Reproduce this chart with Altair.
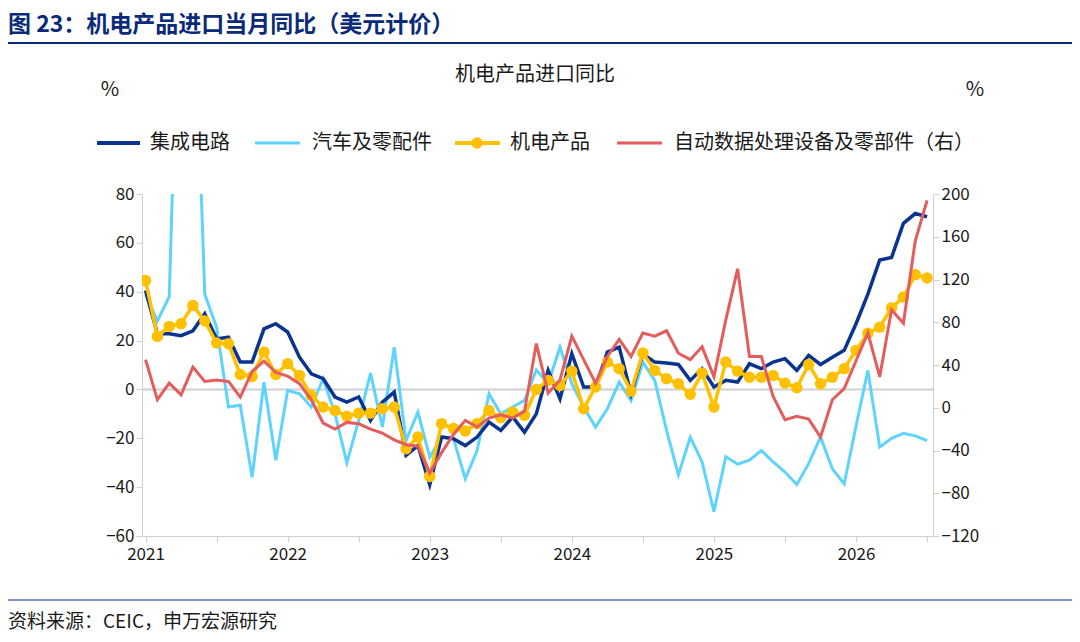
import altair as alt
import pandas as pd

FONT = "Noto Sans CJK SC"
ic = [40.5,22.8,22.8,22,24,31,20.7,21.4,11.2,11.2,24.8,26.9,23.5,13.2,6.4,4.4,-3.1,-5.2,-3.1,-12.7,-5.2,-1.1,-27,-23,-39,-19.5,-20.2,-23,-19.5,-13.4,-16.8,-11.3,-17.5,-10,
      7.8,-3.8,14.6,1,1,15.3,17.3,-1.8,14.6,11.2,10.8,10.2,3.7,8.5,1,3.7,3,10.5,8.5,11.2,12.6,7.8,13.9,10.2,13.2,16,26.9,39,53,54,68,72,70.7]
auto = [39,28,38,200,180,39,25.5,-7.2,-6.5,-36,3,-29,-0.4,-1.8,-7.2,4.4,-10,-30,-12.7,6.7,-15.4,17.3,-20.9,-9.3,-27.7,-19.5,-20,-36.6,-25,-1.8,-10,-7.2,-4.5,8,
        2.3,17.3,2.3,-7.2,-15.4,-7.9,3,-4.5,11.2,3.7,-16.8,-35,-19.5,-29.7,-50,-27.5,-30.6,-29,-25,-29.7,-33.8,-38.9,-30.4,-19.5,-32.5,-38.6,-15,7.8,-23.6,-20,-18,-19,-21]
mech = [44.6,21.7,25.8,26.9,34.4,28,19,18.7,6.1,5.3,15.3,6.1,10.5,5.7,-2.5,-7.2,-8.6,-11,-9.7,-9.7,-7.9,-7.2,-24.3,-19.5,-35.6,-14,-16,-17,-14,-8.6,-11.6,-9.3,-10.6,0,
        3.7,1.6,7.5,-7.9,1,11.2,8.5,-0.7,14.9,7.8,4.4,2.3,-2,6.7,-7.2,11.2,7.5,5,5,5.7,2.6,0.7,10.2,2.3,5,8.5,16,23,25.5,33.4,37.8,47,45.6]
adp = [45,7.5,23,12,38,24.6,26,24.6,10,34,43.6,33,29.6,22.5,7.5,-14.3,-20,-13.7,-15,-20,-23.7,-30,-34.6,-36,-61,-42,-25,-11.8,-18,-9.7,-6.5,-9.7,-3.4,60,
       13.7,26,67,45,23,48,64,48,70,67,72,51,45,57,29,82,130,48,48,10.6,-11.2,-8,-10.6,-27.4,7.5,18,44,70,29,91.6,79,156,194]
months = list(range(len(ic)))
df = pd.DataFrame({"m": months, "ic": ic, "auto": auto, "mech": mech, "adp": adp})

W, H = 791, 342
NAVY, LBLUE, YEL, RED = "#0a3490", "#5fd3ff", "#ffc000", "#e35d5d"
xenc = alt.X("m:Q", scale=alt.Scale(domain=[-0.3, 66.5], nice=False, zero=False),
             axis=alt.Axis(values=list(range(0, 67, 6)), labelExpr="datum.value % 12 == 0 ? '' + (2021 + datum.value/12) : ''",
                           title=None, grid=False, domainColor="#d0d0d0", tickColor="#d0d0d0", tickSize=6,
                           labelFontSize=17, labelColor="#1a1a1a", labelFont=FONT, labelPadding=4, labelFlush=False))
lscale = alt.Scale(domain=[-60, 80], nice=False)
laxis = alt.Axis(values=list(range(-60, 81, 20)), title=None, grid=False, domainColor="#d0d0d0", tickColor="#d0d0d0",
                 labelFontSize=17, labelColor="#1a1a1a", labelFont=FONT, tickSize=6)
base = alt.Chart(df).encode(x=xenc)
zero = alt.Chart(pd.DataFrame({"z": [0]})).mark_rule(color="#d0d0d0", strokeWidth=2).encode(y=alt.Y("z:Q", scale=lscale, axis=laxis))
l_ic = base.mark_line(color=NAVY, strokeWidth=3.5, clip=True).encode(y=alt.Y("ic:Q", scale=lscale, axis=laxis))
l_auto = base.mark_line(color=LBLUE, strokeWidth=3, clip=True).encode(y=alt.Y("auto:Q", scale=lscale, axis=laxis))
l_mech = base.mark_line(color=YEL, strokeWidth=3.5, clip=True, point=alt.OverlayMarkDef(color=YEL, size=130, opacity=1, filled=True)).encode(
    y=alt.Y("mech:Q", scale=lscale, axis=laxis))
left = alt.layer(zero, l_auto, l_ic, l_mech)
right = base.mark_line(color=RED, strokeWidth=3, clip=True).encode(
    y=alt.Y("adp:Q", scale=alt.Scale(domain=[-120, 200], nice=False),
            axis=alt.Axis(orient="right", values=list(range(-120, 201, 40)), title=None, grid=False, domainColor="#d0d0d0",
                          tickColor="#d0d0d0", labelFontSize=17, labelColor="#1a1a1a", labelFont=FONT, tickSize=6)))

one = alt.Data(values=[{}])
def txt(s, x, y, size=20, weight="normal", align="left", color="#1a1a1a"):
    return alt.Chart(one).mark_text(text=s, fontSize=size, fontWeight=weight, align=align, baseline="middle",
                                    font=FONT, color=color).encode(x=alt.value(x), y=alt.value(y))
def rule(x1, x2, y, color, w=3):
    return alt.Chart(one).mark_rule(color=color, strokeWidth=w).encode(x=alt.value(x1), x2=alt.value(x2), y=alt.value(y))

ly = -51
deco = [
    txt("图 23：机电产品进口当月同比（美元计价）", -134, -169, 23, "bold", color="#0a2a7a"),
    rule(-134, 930, -151, "#0a2a7a", 2),
    txt("机电产品进口同比", 393, -119, 20, align="center"),
    txt("%", -32, -104, 20, align="center"),
    txt("%", 833, -104, 20, align="center"),
    rule(-45, -2, ly, NAVY, 4), txt("集成电路", 8, ly),
    rule(113, 158, ly, LBLUE, 3), txt("汽车及零配件", 170, ly),
    rule(313, 358, ly, YEL, 4),
    alt.Chart(one).mark_point(filled=True, color=YEL, size=130, opacity=1).encode(x=alt.value(335), y=alt.value(ly)),
    txt("机电产品", 368, ly),
    rule(475, 520, ly, RED, 3), txt("自动数据处理设备及零部件（右）", 532, ly),
    rule(-134, 930, 406, "#0a2a7a", 1),
    txt("资料来源：CEIC，申万宏源研究", -134, 428, 19),
]

chart = alt.layer(left, right, *deco).resolve_scale(y="independent").properties(
    width=W, height=H, autosize=alt.AutoSizeParams(type="none"),
    padding={"left": 134, "top": 186, "right": 139, "bottom": 98},
).configure_view(stroke=None)
chart.save("out.html", embed_options={"renderer": "svg", "actions": False})
